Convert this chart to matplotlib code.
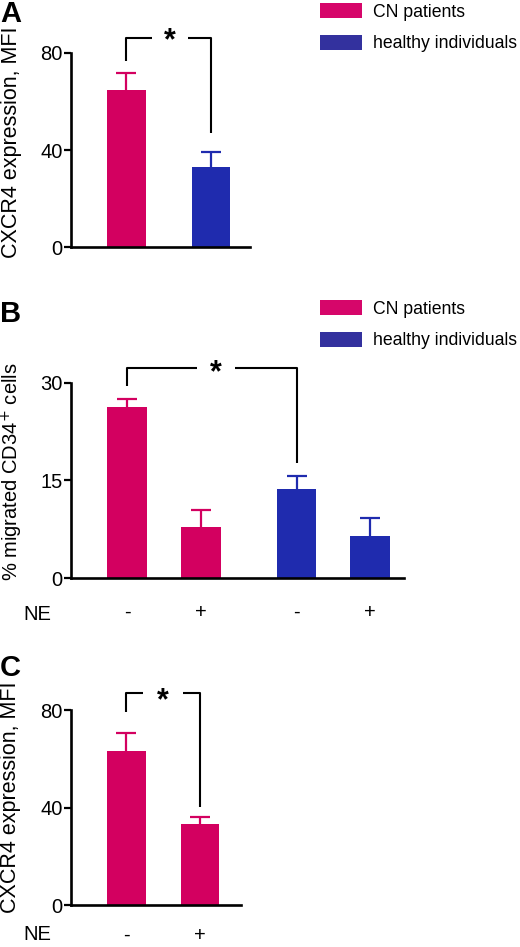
import matplotlib
matplotlib.use("Agg")
import matplotlib.pyplot as plt
from matplotlib.patches import Patch

plt.rcParams['font.family'] = ['Liberation Sans', 'DejaVu Sans']

# ---------------- data ----------------
legend_labels = ["CN patients", "healthy individuals"]

a_means = [64.6, 32.9]
a_err = [7.1, 6.3]

b_means = [26.3, 7.8, 13.7, 6.5]
b_err = [1.2, 2.7, 2.0, 2.7]
b_ne = ["-", "+", "-", "+"]

c_means = [63.1, 33.2]
c_err = [7.4, 2.8]
c_ne = ["-", "+"]

a_ticks = [0, 40, 80]
b_ticks = [0, 15, 30]
c_ticks = [0, 40, 80]

# ---------------- style ----------------
PINK = "#D30060"
BLUE = "#1F2BAE"
LEG_PINK = "#D6066A"
LEG_BLUE = "#33319E"
W, H = 520, 947
DPI = 100
SPINE_LW = 1.9
TICK_FS = 14.5
LABEL_FS = 15.5

fig = plt.figure(figsize=(W / DPI, H / DPI), dpi=DPI)


def px_axes(left, top, right, bottom):
    return fig.add_axes([left / W, 1 - bottom / H, (right - left) / W, (bottom - top) / H])


def style(ax, ticks):
    for s in ("top", "right"):
        ax.spines[s].set_visible(False)
    for s in ("left", "bottom"):
        ax.spines[s].set_linewidth(SPINE_LW)
    ax.set_yticks(ticks)
    ax.set_ylim(ticks[0], ticks[-1])
    ax.tick_params(axis="y", direction="out", length=5, width=1.6, labelsize=TICK_FS, pad=1)
    ax.tick_params(axis="x", length=0, labelsize=TICK_FS)


def bars(ax, pos, means, errs, colors, width):
    ax.bar(pos, means, width=width, color=colors, zorder=2)
    for p, m, e, c in zip(pos, means, errs, colors):
        _, caps, _ = ax.errorbar([p], [m], yerr=[[0], [e]], fmt="none", ecolor=c,
                                 elinewidth=1.6, capsize=7, capthick=1.6, zorder=3)
        caps[0].set_visible(False)  # only the upper cap is drawn


def bracket(ax, x0, x1, y_left, y_top, y_right, gap0, gap1, star_y):
    kw = dict(color="black", lw=1.5, clip_on=False, solid_capstyle="butt")
    ax.plot([x0, x0, gap0], [y_left, y_top, y_top], **kw)
    ax.plot([gap1, x1, x1], [y_top, y_top, y_right], **kw)
    ax.text((gap0 + gap1) / 2, star_y, "*", ha="center", va="baseline",
            fontsize=22, fontweight="bold", clip_on=False)


def legend(ax, anchor_px):
    handles = [Patch(facecolor=LEG_PINK, edgecolor="none"),
               Patch(facecolor=LEG_BLUE, edgecolor="none")]
    ax.legend(handles, legend_labels, loc="upper left",
              bbox_to_anchor=(anchor_px[0] / W, 1 - anchor_px[1] / H),
              bbox_transform=fig.transFigure, frameon=False, fontsize=12.7,
              handlelength=2.4, handleheight=0.95, handletextpad=0.6,
              labelspacing=0.8, borderpad=0, borderaxespad=0)


# ---------------- panel A ----------------
axA = px_axes(71, 53, 250, 247)
style(axA, a_ticks)
posA = [0, 1]
bars(axA, posA, a_means, a_err, [PINK, BLUE], 0.46)
axA.set_xlim(-0.657, 1.462)
axA.set_xticks([])
axA.set_ylabel("CXCR4 expression, MFI", fontsize=LABEL_FS, va="center")
axA.yaxis.set_label_coords((11 - 71) / 179, (247 - 142) / 194)
bracket(axA, 0, 1, 76.7, 86.2, 47.0, 0.30, 0.73, 81.4)
legend(axA, (320, 3))
fig.text(0, 1 - 0 / H, "A", ha="left", va="top", fontsize=21, fontweight="bold")

# ---------------- panel B ----------------
axB = px_axes(71, 383, 404, 578)
style(axB, b_ticks)
posB = [0, 1, 2.29, 3.28]
bars(axB, posB, b_means, b_err, [PINK, PINK, BLUE, BLUE], 0.53)
axB.set_xlim(-0.757, 3.74)
axB.set_xticks(posB)
axB.set_xticklabels(b_ne)
axB.tick_params(axis="x", pad=18)
axB.set_ylabel("% migrated CD34$^{+}$ cells", fontsize=LABEL_FS - 1, va="center")
axB.yaxis.set_label_coords((12 - 71) / 333, (578 - 472) / 195)
bracket(axB, 0, 2.29, 29.5, 32.3, 17.7, 0.95, 1.46, 30.2)
legend(axB, (320, 300))
fig.text(0, 1 - 300 / H, "B", ha="left", va="top", fontsize=21, fontweight="bold")
fig.text(37 / W, 1 - 614 / H, "NE", ha="center", va="center", fontsize=TICK_FS)

# ---------------- panel C ----------------
axC = px_axes(71, 710, 241, 905)
style(axC, c_ticks)
posC = [0, 1]
bars(axC, posC, c_means, c_err, [PINK, PINK], 0.53)
axC.set_xlim(-0.755, 1.558)
axC.set_xticks(posC)
axC.set_xticklabels(c_ne)
axC.tick_params(axis="x", pad=15)
axC.set_ylabel("CXCR4 expression, MFI", fontsize=LABEL_FS, va="center")
axC.yaxis.set_label_coords((11 - 71) / 170, (905 - 797) / 195)
bracket(axC, 0, 1, 79.2, 87.0, 40.2, 0.22, 0.77, 80.5)
fig.text(0, 1 - 654 / H, "C", ha="left", va="top", fontsize=21, fontweight="bold")
fig.text(37 / W, 1 - 934 / H, "NE", ha="center", va="center", fontsize=TICK_FS)

fig.savefig("out.png", dpi=DPI)
